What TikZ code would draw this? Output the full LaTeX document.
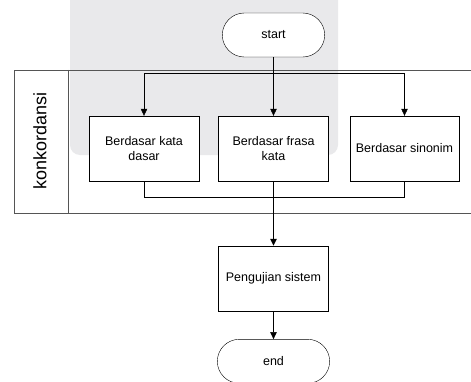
\documentclass[tikz,border=0pt]{standalone}
\usepackage{fontspec}
\setmainfont{Liberation Sans}
\usepackage{tikz}
\usetikzlibrary{positioning,arrows.meta,shapes.misc}
\definecolor{markgray}{HTML}{E9E9EB}
\definecolor{lane}{HTML}{555555}

\begin{document}
\begin{tikzpicture}[
        x=1pt, y=1pt,
        box/.style={draw, fill=white, minimum width=110pt, minimum height=65pt,
                    align=center, font=\fontsize{12.5}{14.5}\selectfont, inner sep=4pt},
        term/.style={draw, fill=white, rounded rectangle, minimum width=109pt,
                     minimum height=44pt, font=\fontsize{12.5}{14.5}\selectfont},
        flow/.style={-{Triangle[length=7pt,width=6.5pt]}},
      ]
        \useasboundingbox (0,0) rectangle (471,381);
        \fill[white] (0,0) rectangle (471,381);
        % faint mark behind the top
        \fill[markgray, rounded corners=10pt] (70,392) -- (70,226) -- (338,226) -- (338,392) -- cycle;
        % swimlane
        \draw[lane] (480,311) -- (14,311) -- (14,168.3) -- (480,168.3);
        \draw[lane] (68,311) -- (68,168.3);
        \node[rotate=90, font=\fontsize{18}{20}\selectfont] (lanelabel) at (40,240) {konkordansi};
        % terminators
        \node[term] (start) at (273.5,346) {start};
        \node[term, minimum width=119pt] (end) at (273.5,19.7) {end};
        % process boxes
        \node[box] (kata) at (144,232.5) {Berdasar kata\\dasar};
        \node[box] (frasa) at (273.5,232.5) {Berdasar frasa\\kata};
        \node[box, minimum width=109pt] (sinonim) at (404.5,232.5) {Berdasar sinonim};
        \node[box] (uji) at (273.5,102.5) {Pengujian sistem};
        % split
        \coordinate (split) at (273.5,307.7);
        \draw (start.south) -- (split);
        \draw[flow] (split) -- (frasa.north);
        \draw[flow] (split) -| (kata.north);
        \draw[flow] (split) -| (sinonim.north);
        % join
        \coordinate (join) at (273.5,184.3);
        \draw (kata.south) |- (join);
        \draw (sinonim.south) |- (join);
        \draw (frasa.south) -- (join);
        \draw[flow, line width=1.4pt] (join) -- (uji.north);
        \draw[flow] (uji.south) -- (end.north);
      \end{tikzpicture}
\end{document}
